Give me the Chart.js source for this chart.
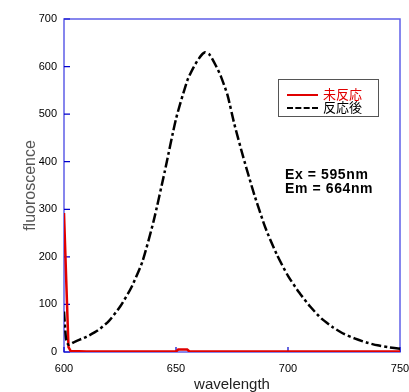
<!DOCTYPE html>
<html>
<head>
<meta charset="utf-8">
<script src="https://cdn.jsdelivr.net/npm/chart.js@4"></script>
<style>
  body { margin: 0; background: #fff; }
  #wrap { position: relative; width: 409px; height: 392px; }
  .leyenda { position: absolute; left: 278px; top: 79px; width: 99px; height: 36px; border: 1px solid #555; background: #fff; font-family: "Noto Sans CJK JP", sans-serif; font-size: 13px; }
  .fila { position: absolute; left: 8px; height: 13px; line-height: 13px; white-space: nowrap; }
  .muestra { display: inline-block; width: 31px; vertical-align: middle; margin-right: 5px; }
  .nota { position: absolute; left: 285px; font-family: "Liberation Sans", Arial, sans-serif; font-weight: bold; font-size: 14px; letter-spacing: 0.6px; color: #000; white-space: nowrap; }
</style>
</head>
<body>
<div id="wrap">
  <canvas id="grafica" width="409" height="392"></canvas>
  <div class="leyenda">
    <div class="fila" style="top:7px;color:#e00000"><span class="muestra" style="border-top:2px solid #e00000"></span>未反応</div>
    <div class="fila" style="top:20px;color:#000"><span class="muestra" style="border-top:2px dashed #000"></span>反応後</div>
  </div>
  <div class="nota" style="top:166px">Ex = 595nm</div>
  <div class="nota" style="top:180px">Em = 664nm</div>
</div>
<script>
// longitudes de onda y valores de fluorescencia
const ondaSin = [600, 601, 602, 603, 610, 620, 630, 640, 649, 650, 651, 655, 656, 660, 680, 700, 720, 740, 750];
const valSin  = [292, 150, 10, 2, 1, 1, 1, 1, 1, 1, 5, 5, 1, 1, 1, 1, 1, 1, 1];

const ondaCon = [600, 600.5, 601, 602, 605, 610, 615, 620, 625, 630, 635, 640, 645, 650, 655, 658, 661, 663, 665, 668, 670, 673, 676, 680, 685, 690, 695, 700, 705, 710, 715, 720, 725, 730, 735, 740, 745, 750];
const valCon  = [85, 50, 25, 15, 22, 32, 45, 65, 95, 135, 190, 275, 380, 490, 570, 600, 622, 630, 625, 600, 580, 540, 480, 410, 330, 260, 205, 160, 125, 95, 70, 52, 38, 28, 20, 14, 10, 7];

const ticksX = [600, 650, 700, 750];
const ticksY = [0, 100, 200, 300, 400, 500, 600, 700];

const azulMarco = '#5f5fe8';
const azulTick = '#0000cc';

const marcoPlugin = {
  id: 'marco',
  beforeDatasetsDraw(chart) {
    const { ctx, chartArea: a, scales } = chart;
    ctx.save();
    ctx.strokeStyle = azulMarco;
    ctx.lineWidth = 1.5;
    ctx.strokeRect(a.left, a.top, a.right - a.left, a.bottom - a.top);
    ctx.strokeStyle = azulTick;
    ctx.lineWidth = 1.2;
    ctx.beginPath();
    ticksX.forEach(v => {
      const x = scales.x.getPixelForValue(v);
      ctx.moveTo(x, a.bottom); ctx.lineTo(x, a.bottom - 5);
    });
    ticksY.forEach(v => {
      const y = scales.y.getPixelForValue(v);
      ctx.moveTo(a.left, y); ctx.lineTo(a.left + 6, y);
    });
    ctx.stroke();
    ctx.restore();
  }
};

const ctx = document.getElementById('grafica').getContext('2d');
new Chart(ctx, {
  type: 'line',
  data: {
    datasets: [
      {
        label: '反応後',
        data: ondaCon.map((x, i) => ({ x: x, y: valCon[i] })),
        borderColor: '#000',
        borderWidth: 2.5,
        borderDash: [10, 3, 3, 3],
        pointRadius: 0,
        tension: 0.2,
        fill: false
      },
      {
        label: '未反応',
        data: ondaSin.map((x, i) => ({ x: x, y: valSin[i] })),
        borderColor: '#e00000',
        borderWidth: 2.5,
        pointRadius: 0,
        tension: 0,
        fill: false
      }
    ]
  },
  options: {
    responsive: false,
    animation: false,
    layout: { padding: { top: 19, right: 9, left: 0, bottom: 0 } },
    plugins: { legend: { display: false }, tooltip: { enabled: false } },
    scales: {
      x: {
        type: 'linear',
        min: 600, max: 750,
        afterBuildTicks: s => { s.ticks = ticksX.map(v => ({ value: v })); },
        afterFit: s => { s.height = 40; s.paddingLeft = 0; s.paddingRight = 0; },
        grid: { display: false, drawTicks: false },
        border: { display: false },
        ticks: { color: '#000', padding: 10, maxRotation: 0, font: { family: 'Liberation Sans', size: 11 } },
        title: { display: true, text: 'wavelength', color: '#222', padding: { top: 0, bottom: 0 }, font: { family: 'Liberation Sans', size: 15, lineHeight: 1 } }
      },
      y: {
        min: 0, max: 700,
        afterBuildTicks: s => { s.ticks = ticksY.map(v => ({ value: v })); },
        afterFit: s => { s.width = 64; },
        grid: { display: false, drawTicks: false },
        border: { display: false },
        ticks: { color: '#000', padding: 7, font: { family: 'Liberation Sans', size: 11 } },
        title: { display: true, text: 'fluoroscence', color: '#555', padding: { top: 23, bottom: 0 }, font: { family: 'Liberation Sans', size: 16, lineHeight: 1 } }
      }
    }
  },
  plugins: [marcoPlugin]
});
</script>
</body>
</html>
